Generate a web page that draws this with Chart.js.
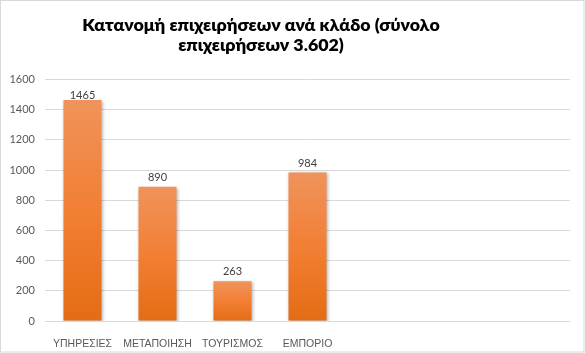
<!DOCTYPE html>
<html>
<head>
<meta charset="utf-8">
<script src="https://cdn.jsdelivr.net/npm/chart.js@4.4.1/dist/chart.umd.min.js"></script>
<style>
  html, body { margin: 0; padding: 0; background: #fff; }
  #wrap { width: 585px; height: 353px; position: relative; }
</style>
</head>
<body>
<div id="wrap"><canvas id="c" width="585" height="353"></canvas></div>
<script>
const titleLines = ['Κατανομή επιχειρήσεων ανά κλάδο (σύνολο', 'επιχειρήσεων 3.602)'];
const categories = ['ΥΠΗΡΕΣΙΕΣ', 'ΜΕΤΑΠΟΙΗΣΗ', 'ΤΟΥΡΙΣΜΟΣ', 'ΕΜΠΟΡΙΟ', '', '', ''];
const values = [1465, 890, 263, 984, null, null, null];
const yTicks = [0, 200, 400, 600, 800, 1000, 1200, 1400, 1600];

function barGradient(context) {
  const chart = context.chart;
  const area = chart.chartArea;
  if (!area || context.type !== 'data') return '#EE7E32';
  const v = context.raw;
  if (v == null) return '#EE7E32';
  const y = chart.scales.y;
  const top = y.getPixelForValue(v);
  const bottom = y.getPixelForValue(0);
  if (!isFinite(top) || !isFinite(bottom) || top === bottom) return '#EE7E32';
  const g = chart.ctx.createLinearGradient(0, top, 0, bottom);
  g.addColorStop(0, '#F0935B');
  g.addColorStop(0.5, '#F27F34');
  g.addColorStop(1, '#E46C14');
  return g;
}

const frame = {
  id: 'frame',
  afterLayout(chart) {
    if (chart.titleBlock) { chart.titleBlock.left = 0; chart.titleBlock.right = 522; }
  },
  beforeDraw(chart) {
    const ctx = chart.ctx;
    ctx.save();
    ctx.fillStyle = '#ffffff';
    ctx.fillRect(0, 0, chart.width, chart.height);
    ctx.strokeStyle = '#d9d9d9';
    ctx.lineWidth = 1;
    ctx.strokeRect(0.5, 0.5, chart.width - 1.5, chart.height - 1.5);
    ctx.restore();
  }
};

const shadow = {
  id: 'shadow',
  beforeDatasetsDraw(chart) {
    const ctx = chart.ctx;
    ctx.save();
    ctx.shadowColor = 'rgba(0,0,0,0.28)';
    ctx.shadowBlur = 3;
    ctx.shadowOffsetX = 1;
    ctx.shadowOffsetY = 1;
  },
  afterDatasetsDraw(chart) {
    chart.ctx.restore();
    const ctx = chart.ctx;
    const meta = chart.getDatasetMeta(0);
    ctx.save();
    ctx.font = '11px Lato, "Liberation Sans", sans-serif';
    ctx.fillStyle = '#404040';
    ctx.textAlign = 'center';
    ctx.textBaseline = 'middle';
    meta.data.forEach((el, i) => {
      const v = values[i];
      if (v == null) return;
      let y = el.y - 9.5;
      y = Math.max(y, chart.chartArea.top + 15.5);
      ctx.fillText(String(v), el.x, y);
    });
    ctx.restore();
  }
};

new Chart(document.getElementById('c'), {
  type: 'bar',
  data: {
    labels: categories,
    datasets: [{
      data: values,
      backgroundColor: barGradient,
      borderWidth: 0,
      categoryPercentage: 1.0,
      barPercentage: 0.507
    }]
  },
  options: {
    responsive: false,
    animation: false,
    events: [],
    layout: { padding: { left: 0, right: 15, top: 0, bottom: 0 } },
    plugins: {
      legend: { display: false },
      tooltip: { enabled: false },
      title: {
        display: true,
        text: titleLines,
        color: '#000000',
        font: { family: 'Lato, "Open Sans", sans-serif', size: 17.8, weight: '800', lineHeight: 20 / 17.8 },
        padding: { top: 15.5, bottom: 24 }
      }
    },
    scales: {
      x: {
        grid: { display: false },
        border: { display: false },
        ticks: {
          color: '#595959',
          font: { family: '"Liberation Sans", Arial, sans-serif', size: 10.5 },
          maxRotation: 0,
          autoSkip: false,
          padding: 9
        },
        afterFit(s) { s.height = 32; }
      },
      y: {
        min: 0,
        max: 1600,
        afterBuildTicks(s) { s.ticks = yTicks.map(v => ({ value: v })); },
        grid: { color: '#d9d9d9', drawTicks: false, lineWidth: 1 },
        border: { display: false },
        ticks: {
          color: '#595959',
          font: { family: 'Lato, "Liberation Sans", sans-serif', size: 11 },
          padding: 10,
          callback: (v) => String(v)
        },
        afterFit(s) { s.width = 45; }
      }
    }
  },
  plugins: [frame, shadow]
});
</script>
</body>
</html>
